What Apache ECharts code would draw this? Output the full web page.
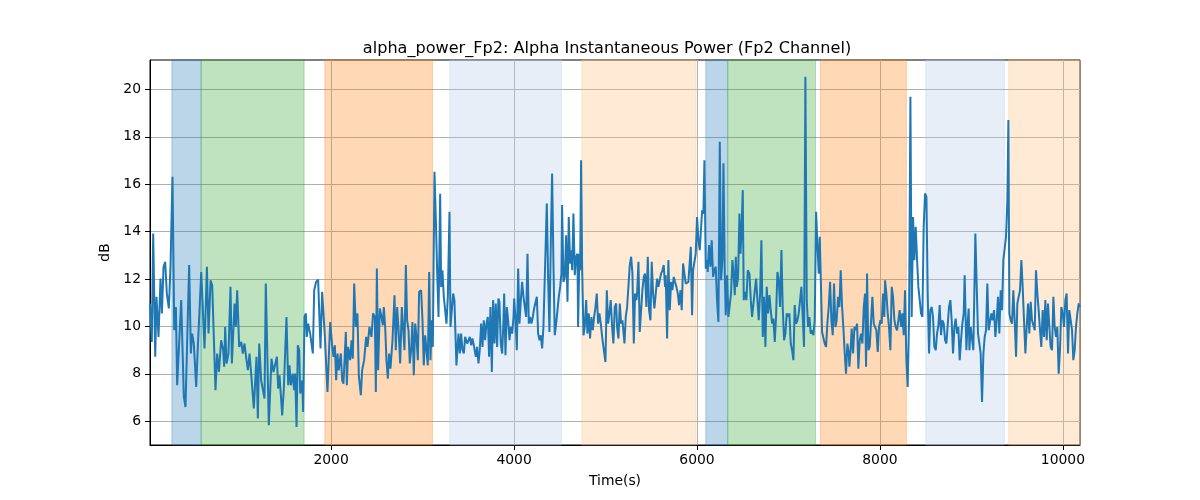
<!DOCTYPE html>
<html><head><meta charset="utf-8">
<script src="https://cdn.jsdelivr.net/npm/echarts@6/dist/echarts.min.js"></script>
<style>html,body{margin:0;padding:0;background:#fff}#c{width:1200px;height:500px}</style>
</head><body><div id="c"></div>
<script>
const titleText = 'alpha_power_Fp2: Alpha Instantaneous Power (Fp2 Channel)';
const xName = 'Time(s)';
const yName = 'dB';
const xTicks = [2000, 4000, 6000, 8000, 10000];
const yTicks = [6, 8, 10, 12, 14, 16, 18, 20];
const xRange = [20, 10187];
const yRange = [5, 21.24];
const bandStarts = [259, 579, 1931, 3297, 4740, 6096, 6336, 7350, 8500, 9407];
const bandEnds   = [579, 1705, 3108, 4518, 5990, 6336, 7295, 8289, 9360, 10187];
const bandKinds  = [0, 1, 2, 3, 4, 0, 1, 2, 3, 4];

const seg1 = [[20,10.97],[40,9.35],[55,13.92],[77,8.72],[91,11.25],[113,9.56],[135,12.02],[150,10.55],[168,12.52],[186,12.73],[204,11.39],[226,10.76],[244,12.52],[266,16.31],[285,9.84],[303,10.82],[317,7.52],[335,7.52],[361,11.11],[390,7.03],[408,6.6],[448,12.59],[467,8.86],[481,9.7],[499,9.28],[525,7.45],[543,9.14],[580,12.3],[616,9.07],[642,12.52],[660,9.7],[682,11.95],[700,11.74],[736,7.31],[754,8.86],[773,8.08],[798,9.42],[820,9.0],[831,8.3],[842,9.98],[857,8.44],[878,8.86],[900,11.67],[915,8.44],[944,10.97],[958,9.98],[973,11.53],[995,9.14],[1017,9.35],[1035,8.86],[1053,9.28],[1075,8.58],[1090,8.16],[1108,8.86],[1126,8.01],[1155,6.54],[1184,8.72],[1199,6.12],[1214,9.28],[1235,7.73],[1254,7.66],[1272,6.96],[1286,11.81]];
const seg2 = [[1319,5.83],[1348,8.64],[1370,8.08],[1385,8.15],[1407,8.72],[1421,7.38],[1436,7.94],[1465,6.25],[1483,7.38],[1512,10.4],[1531,7.52],[1545,8.36],[1560,7.52],[1581,8.01],[1596,7.31],[1607,8.01],[1622,5.76],[1636,9.21],[1651,9.0],[1662,7.17],[1676,7.24],[1684,7.73],[1694,6.39],[1709,10.4],[1724,10.55],[1734,9.56],[1749,10.12],[1771,9.7],[1800,8.86],[1815,11.53],[1836,11.88],[1858,11.98],[1884,9.07],[1902,11.46],[1931,9.63],[1946,9.56],[1960,7.24],[1990,10.19],[2011,9.21],[2026,8.72],[2041,9.21],[2055,7.73],[2070,8.86],[2084,8.15],[2106,8.86],[2121,7.73],[2135,7.59],[2150,8.86],[2161,9.77],[2172,7.52],[2186,9.14],[2208,8.58],[2223,9.42],[2237,8.64],[2252,11.81],[2270,9.98],[2288,10.55],[2303,7.94],[2325,7.1],[2339,8.15],[2361,8.58],[2383,9.56],[2398,9.14],[2419,9.98],[2441,9.56],[2459,10.55],[2478,10.4],[2489,7.24],[2500,12.44],[2514,8.15],[2532,10.76],[2551,10.4]];
const seg3 = [[2565,10.05],[2576,10.82],[2591,9.98],[2605,8.58],[2620,7.8],[2634,8.86],[2649,8.22],[2671,9.42],[2693,11.32],[2707,9.0],[2722,10.82],[2736,9.98],[2755,8.44],[2773,10.82],[2787,10.9],[2802,9.0],[2817,12.59],[2831,10.26],[2846,9.84],[2860,8.44],[2875,9.0],[2889,10.19],[2904,7.94],[2919,10.12],[2933,9.56],[2948,8.58],[2962,11.46],[2984,11.53],[2999,10.26],[3013,8.36],[3028,9.63],[3042,9.56],[3057,8.36],[3072,12.3],[3086,8.58],[3101,10.26],[3112,9.14],[3130,16.53],[3145,14.49],[3159,12.37],[3174,10.4],[3192,15.6],[3203,11.67],[3217,12.37],[3232,11.25],[3247,11.32],[3261,10.12],[3276,11.25],[3294,14.84],[3305,9.98],[3319,10.05],[3334,11.39],[3348,11.11],[3370,8.36],[3392,9.7],[3407,8.86],[3421,9.7],[3436,9.0],[3451,8.86],[3465,9.56],[3487,9.28],[3502,9.42],[3516,9.56],[3531,9.21],[3545,9.49],[3560,9.21],[3582,8.72],[3596,9.14],[3611,8.44],[3625,9.0],[3640,10.12],[3655,9.14],[3669,10.26],[3684,9.42],[3698,10.12],[3713,10.4],[3727,8.72],[3742,10.82],[3757,8.08],[3771,11.11],[3786,9.28],[3800,10.97],[3815,9.14],[3829,11.18]];
const seg4 = [[3840,11.04],[3855,9.28],[3870,8.86],[3884,10.26],[3892,11.39],[3906,8.79],[3921,10.82],[3935,10.26],[3950,9.42],[3964,9.98],[3979,9.7],[3994,10.4],[4001,11.18],[4015,10.4],[4030,9.0],[4045,12.44],[4059,10.12],[4074,11.11],[4088,11.88],[4103,11.25],[4117,11.25],[4132,10.4],[4147,13.07],[4161,10.12],[4176,10.4],[4190,10.12],[4205,10.4],[4219,10.76],[4234,10.69],[4249,11.25],[4263,9.7],[4278,9.42],[4292,9.63],[4307,9.07],[4321,9.98],[4358,15.19],[4372,12.09],[4387,9.77],[4402,13.64],[4416,16.45],[4431,12.52],[4445,9.63],[4460,10.12],[4474,10.05],[4489,11.25],[4504,11.67],[4518,12.23],[4525,15.12],[4540,11.88],[4555,12.09],[4569,13.85],[4584,11.04],[4598,14.62],[4613,12.65],[4627,13.21],[4635,12.37],[4649,14.76],[4664,12.16],[4678,12.93],[4693,13.07],[4700,9.98],[4715,13.07],[4722,12.37],[4733,17.01],[4744,12.52],[4759,9.63],[4773,9.98],[4788,11.11],[4802,9.7],[4817,10.55],[4831,9.49],[4846,10.4],[4861,9.84],[4875,10.4],[4890,10.82],[4904,11.39],[4919,10.12],[4933,10.55],[4948,10.12],[4963,9.56],[4977,9.14],[4999,8.5],[5014,11.53],[5028,10.12],[5043,10.55],[5057,11.11],[5072,9.98],[5086,9.28],[5101,10.82],[5116,10.97]];
const seg5 = [[5126,9.98],[5141,9.49],[5156,10.97],[5170,10.12],[5185,10.26],[5207,9.28],[5221,10.4],[5236,10.82],[5250,10.9],[5265,12.59],[5280,12.94],[5294,12.23],[5309,9.28],[5323,11.39],[5338,11.11],[5345,11.39],[5360,12.73],[5374,9.77],[5389,9.77],[5403,11.53],[5418,12.09],[5432,12.23],[5447,10.82],[5462,12.94],[5476,10.69],[5491,10.26],[5505,12.73],[5520,11.39],[5534,10.76],[5549,10.82],[5564,12.02],[5578,11.67],[5593,11.74],[5607,12.23],[5622,12.37],[5636,12.59],[5651,11.67],[5658,12.16],[5673,9.49],[5687,12.8],[5702,10.69],[5717,11.88],[5731,11.53],[5746,12.09],[5760,11.88],[5775,11.67],[5790,11.39],[5804,10.9],[5819,11.53],[5833,10.69],[5848,12.66],[5862,12.23],[5877,11.81],[5892,11.81],[5906,11.88],[5921,11.81],[5932,13.36],[5946,10.47],[5957,12.37],[5972,12.44],[5986,13.07],[6001,14.62],[6015,13.64],[6030,13.22],[6045,13.15],[6056,14.9],[6070,14.76],[6081,17.01],[6096,12.44],[6110,12.8],[6117,12.3],[6132,13.43],[6147,12.52],[6161,13.64],[6176,12.09],[6190,12.37],[6205,12.52],[6219,11.11],[6234,10.19],[6249,17.79],[6263,11.95],[6278,12.8],[6289,16.88],[6303,12.37],[6314,10.47],[6329,12.16],[6343,10.4],[6358,10.47],[6372,11.39],[6387,12.8]];
const seg6 = [[6402,12.09],[6413,11.32],[6424,12.94],[6435,11.67],[6449,12.09],[6464,14.76],[6475,13.07],[6486,13.92],[6500,15.75],[6511,11.11],[6526,11.46],[6540,11.11],[6555,12.37],[6573,12.23],[6588,11.11],[6602,10.4],[6617,10.97],[6631,10.9],[6646,12.02],[6660,12.09],[6675,10.26],[6690,11.39],[6704,13.64],[6719,9.56],[6733,11.25],[6748,9.14],[6762,11.67],[6777,10.55],[6792,11.32],[6806,10.69],[6821,10.12],[6835,10.33],[6850,9.35],[6864,10.4],[6879,12.3],[6894,11.95],[6908,10.82],[6923,13.22],[6937,10.82],[6952,9.42],[6966,9.7],[6981,10.55],[6996,10.4],[7010,10.55],[7025,9.28],[7039,9.0],[7054,8.58],[7068,10.9],[7083,10.12],[7098,10.26],[7112,10.55],[7127,11.11],[7141,11.67],[7156,10.4],[7170,9.14],[7185,20.53],[7200,11.11],[7214,9.98],[7229,10.4],[7243,9.7],[7258,9.84],[7272,9.63],[7287,10.26],[7302,14.84],[7316,13.5],[7331,12.23],[7342,13.78],[7352,12.23],[7367,9.77],[7382,9.77],[7396,9.28],[7411,9.14],[7425,10.12],[7440,10.82],[7455,11.88],[7469,10.26],[7484,9.63],[7498,11.81],[7513,9.98],[7527,10.26],[7542,11.25],[7557,10.82],[7571,12.37],[7586,10.82],[7600,9.98],[7615,8.86],[7629,8.01],[7644,9.28],[7659,8.86],[7666,8.3]];
const seg7 = [[7681,9.14],[7691,9.91],[7706,8.86],[7721,9.98],[7735,9.84],[7750,10.12],[7764,8.22],[7779,9.42],[7794,9.7],[7808,9.28],[7823,10.82],[7837,11.39],[7848,8.3],[7859,12.23],[7874,9.0],[7888,9.14],[7903,9.14],[7917,11.25],[7932,10.12],[7946,10.12],[7961,9.84],[7976,8.93],[7990,9.98],[8005,10.26],[8019,10.12],[8034,11.39],[8048,10.4],[8056,11.95],[8070,11.39],[8085,10.55],[8099,9.98],[8114,9.0],[8129,11.67],[8143,11.25],[8158,10.26],[8172,9.98],[8187,9.84],[8201,9.77],[8216,10.69],[8231,9.98],[8245,10.55],[8260,9.63],[8274,11.53],[8289,8.58],[8303,7.45],[8318,10.26],[8333,19.69],[8347,10.4],[8362,14.62],[8376,12.8],[8391,14.2],[8406,12.8],[8420,11.67],[8435,11.11],[8449,10.55],[8464,10.4],[8478,14.2],[8493,15.61],[8508,15.47],[8522,11.39],[8537,8.86],[8551,10.69],[8566,10.82],[8580,10.4],[8595,9.14],[8610,9.0],[8624,9.7],[8639,10.05],[8653,10.9],[8668,9.63],[8682,10.26],[8697,10.12],[8712,9.42],[8726,9.28],[8741,9.21],[8755,10.82],[8770,11.11],[8784,10.26],[8799,8.86],[8814,9.98],[8828,10.33],[8843,9.7],[8857,9.98],[8872,8.58],[8886,9.42],[8901,10.12],[8916,10.55],[8926,12.16],[8945,9.0]];
const seg8 = [[8956,9.98],[8970,10.76],[8978,9.0],[8992,9.98],[9007,9.91],[9021,9.0],[9036,8.93],[9043,13.92],[9058,11.67],[9072,9.7],[9087,9.28],[9101,8.86],[9116,6.81],[9131,8.86],[9145,9.56],[9160,9.84],[9174,11.81],[9189,9.84],[9203,9.84],[9218,10.55],[9233,10.26],[9247,10.69],[9262,9.56],[9276,10.26],[9291,11.25],[9305,9.7],[9320,11.53],[9335,10.69],[9349,12.8],[9364,12.8],[9378,13.78],[9393,15.33],[9404,18.71],[9415,10.55],[9429,10.26],[9444,10.12],[9458,11.53],[9473,10.26],[9488,8.72],[9502,10.97],[9517,10.97],[9531,11.53],[9546,12.8],[9560,11.67],[9575,10.26],[9590,8.86],[9604,9.98],[9619,10.97],[9633,9.7],[9648,11.04],[9662,10.26],[9677,10.26],[9692,9.84],[9706,12.37],[9721,11.39],[9735,10.69],[9750,9.84],[9764,9.14],[9779,10.69],[9794,9.56],[9808,11.11],[9823,9.42],[9837,10.97],[9852,9.98],[9866,9.14],[9881,9.0],[9896,11.25],[9910,9.98],[9925,9.56],[9939,9.98],[9954,8.01],[9968,9.0],[9983,10.82],[9998,10.55],[10012,9.98],[10027,11.11],[10041,11.39],[10056,8.86],[10070,10.69],[10085,10.69],[10100,9.84],[10114,8.58],[10129,9.0],[10143,9.98],[10158,10.55],[10173,10.97],[10187,10.82]];

const seriesData = [].concat(seg1, seg2, seg3, seg4, seg5, seg6, seg7, seg8);

const bandPalette = ['rgba(31,119,180,0.3)', 'rgba(44,160,44,0.3)', 'rgba(255,127,14,0.3)', 'rgba(174,199,232,0.3)', 'rgba(255,187,120,0.3)'];
const FONT = 'DejaVu Sans';

const areas = bandStarts.map((s, i) => [
  { xAxis: s, itemStyle: { color: bandPalette[bandKinds[i]], borderColor: bandPalette[bandKinds[i]], borderWidth: 1 } },
  { xAxis: bandEnds[i] }
]);

const chart = echarts.init(document.getElementById('c'), null, { renderer: 'canvas' });
chart.setOption({
  animation: false,
  backgroundColor: '#fff',
  title: { text: titleText, left: 602, textAlign: 'center', top: 36,
    textStyle: { fontFamily: FONT, fontSize: 16.1, fontWeight: 'normal', color: '#000' } },
  grid: { left: 150, right: 120, top: 60, bottom: 55, show: true, borderColor: '#000', borderWidth: 1, backgroundColor: 'transparent' },
  xAxis: {
    type: 'value', min: xRange[0], max: xRange[1],
    name: xName, nameLocation: 'middle', nameGap: 29,
    nameTextStyle: { fontFamily: FONT, fontSize: 13.9, color: '#000' },
    axisLine: { show: true, lineStyle: { color: '#000', width: 1 } },
    axisTick: { show: true, inside: false, length: 5, customValues: xTicks, lineStyle: { color: '#000' } },
    axisLabel: { customValues: xTicks, margin: 8, fontFamily: FONT, fontSize: 13.9, color: '#000', formatter: v => String(v) },
    splitLine: { show: true, lineStyle: { color: '#b0b0b0', width: 1 } }
  },
  yAxis: {
    type: 'value', min: yRange[0], max: yRange[1],
    name: yName, nameLocation: 'middle', nameGap: 33, nameRotate: 90,
    nameTextStyle: { fontFamily: FONT, fontSize: 13.9, color: '#000' },
    axisLine: { show: true, lineStyle: { color: '#000', width: 1 } },
    axisTick: { show: true, inside: false, length: 5, customValues: yTicks, lineStyle: { color: '#000' } },
    axisLabel: { customValues: yTicks, margin: 9, fontFamily: FONT, fontSize: 13.9, color: '#000', formatter: v => String(v) },
    splitLine: { show: true, lineStyle: { color: '#b0b0b0', width: 1 } }
  },
  series: [
    { type: 'line', data: [], z: 1, silent: true,
      markArea: { silent: true, data: areas } },
    { type: 'line', data: seriesData, z: 5, showSymbol: false, symbol: 'none',
      lineStyle: { color: '#1f77b4', width: 2 }, itemStyle: { color: '#1f77b4' } }
  ]
});
</script>
</body></html>
